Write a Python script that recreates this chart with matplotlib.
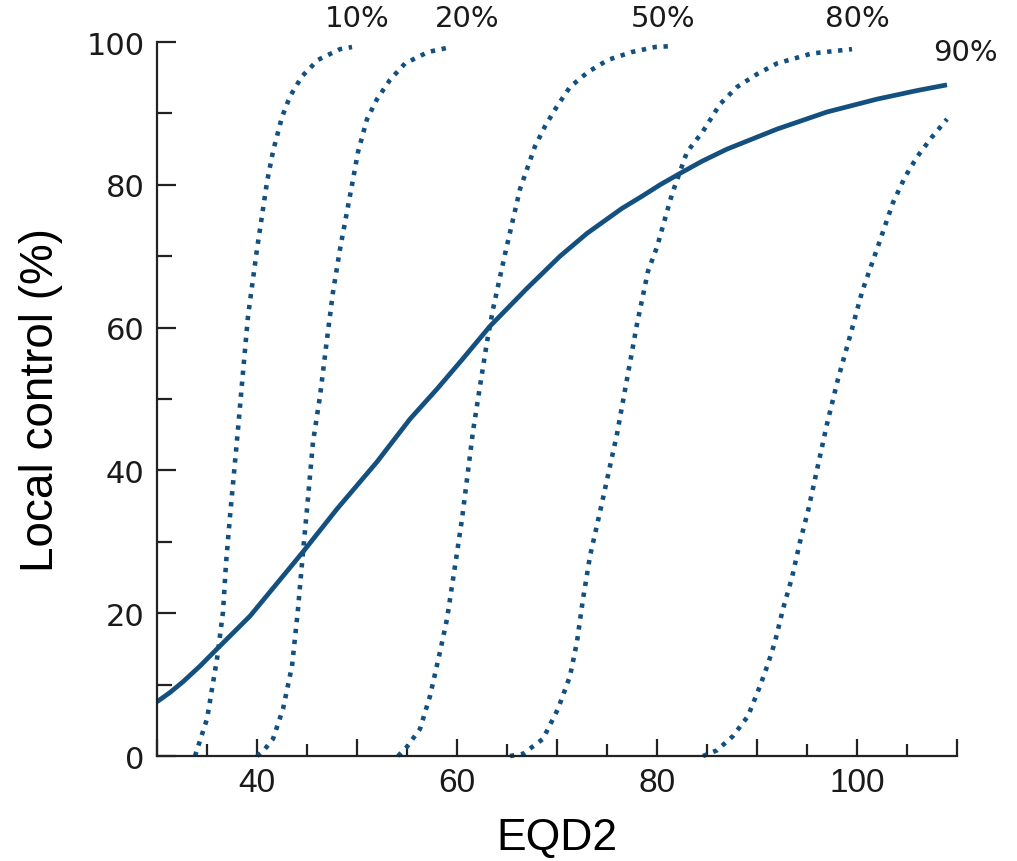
import matplotlib
matplotlib.use("Agg")
import matplotlib.pyplot as plt
from matplotlib.ticker import MultipleLocator, FuncFormatter

# Local control vs EQD2 (solid)
lc_x = [30, 31.3, 32.6, 34.3, 36, 39.3, 42.6, 44.6, 48, 52, 55.3, 58, 60.5, 63.3, 67, 70.3, 73, 76.5,
        78.5, 80.3, 82.3, 84.5, 87, 92, 97, 102, 106, 109]
lc_y = [7.6, 8.9, 10.4, 12.6, 15, 19.6, 25.2, 28.6, 34.6, 41.2, 47.2, 51.4, 55.5, 60.2, 65.5, 70, 73.2, 76.7,
        78.4, 80.0, 81.6, 83.3, 85, 87.8, 90.2, 92, 93.2, 94]

# Dotted curves for each percentile
p10_x = [33.8, 35, 36, 36.6, 36.9, 37.3, 38.1, 38.6, 39.1, 40, 41, 41.6, 42.5, 43.3, 44.5, 46.1, 48.3, 49.5]
p10_y = [0, 5.2, 13.6, 20.2, 27, 33.6, 45.8, 53.8, 61.6, 71, 80.4, 84.7, 89.5, 92.4, 95.2, 97.5, 99, 99.3]

p20_x = [40, 40.8, 41.6, 42.6, 43.5, 44.1, 44.6, 45, 45.6, 46.3, 47, 47.6, 48.3, 49.5, 50.1, 51,
         52, 53.3, 54.8, 57.1, 59.4]
p20_y = [0, 1, 2.4, 6.6, 12.6, 20.6, 28.6, 34.6, 44, 50.4, 58.4, 65, 71, 80, 84.6, 89.2,
         92, 94.7, 97, 98.6, 99.3]

p50_x = [54.1, 55, 56.3, 57.3, 58.3, 59, 59.8, 60.5, 61.6, 62.3, 63, 63.6, 64.8, 66.3, 67.8, 68.8,
         70, 71.3, 73.1, 75.1, 77.5, 79.8, 81.1]
p50_y = [0, 1.3, 3.8, 8.4, 14.6, 19.2, 26.6, 33.2, 45.5, 51.8, 58, 62.6, 70.3, 79.4, 85.4, 88.2,
         91, 93.7, 95.8, 97.5, 98.6, 99.3, 99.4]

p80_x = [65.3, 66.6, 68.6, 70.1, 71.3, 72, 72.6, 73.3, 74.3, 76, 77, 78, 79.1, 80, 81.5, 83,
         84.6, 86.3, 88, 90, 92, 95.5, 99.5]
p80_y = [0, 0.3, 2.4, 6.6, 11.2, 16, 22, 28, 34.2, 45.1, 52.8, 60.5, 67.9, 71.3, 78.7, 84.6,
         87.5, 91.3, 93.7, 95.5, 97, 98.4, 99]

p90_x = [84.6, 86, 87.6, 89.1, 90.3, 91.1, 91.8, 92.6, 93.5, 94.3, 95.1, 97, 98.1, 99.3, 100.5,
         102, 103.6, 104.8, 106, 107.5, 109]
p90_y = [0, 0.8, 2.8, 5.6, 9.8, 12.9, 16, 20.6, 25, 30, 34.3, 46.5, 52.8, 58.8, 65,
         71, 77.5, 81.1, 83.9, 86.7, 89.2]

labels = ["10%", "20%", "50%", "80%", "90%"]
label_x = [50, 61, 80.6, 100, 110.8]
label_y = [103.4, 103.4, 103.4, 103.4, 98.6]

blue = "#13507f"

fig = plt.figure(figsize=(10.17, 8.62), dpi=100)
ax = fig.add_axes([0.1544, 0.1218, 0.7866, 0.8283])

ax.plot(lc_x, lc_y, color=blue, lw=3.4, solid_capstyle="butt", solid_joinstyle="round", clip_on=False)
for xs, ys in [(p10_x, p10_y), (p20_x, p20_y), (p50_x, p50_y), (p80_x, p80_y), (p90_x, p90_y)]:
    ax.plot(xs, ys, color=blue, lw=3.3, linestyle=(0, (0.95, 1.45)),
            dash_capstyle="butt", clip_on=False)

for t, x, y in zip(labels, label_x, label_y):
    ax.text(x, y, t, ha="center", va="center", fontsize=21, color="#1a1a1a",
            family="DejaVu Sans", clip_on=False)

ax.set_xlim(30, 110)
ax.set_ylim(0, 100)

for s in ["top", "right"]:
    ax.spines[s].set_visible(False)
for s in ["left", "bottom"]:
    ax.spines[s].set_linewidth(1.6)
    ax.spines[s].set_color("#222222")

ax.xaxis.set_major_locator(MultipleLocator(10))
ax.xaxis.set_minor_locator(MultipleLocator(5))
ax.xaxis.set_major_formatter(FuncFormatter(lambda v, p: "%d" % v if v % 20 == 0 and 40 <= v <= 100 else ""))
ax.yaxis.set_major_locator(MultipleLocator(20))
ax.yaxis.set_minor_locator(MultipleLocator(10))

ax.tick_params(axis="x", which="major", direction="in", length=12, width=1.6, color="#222222", pad=8)
ax.tick_params(axis="x", which="minor", direction="in", length=8.5, width=1.6, color="#222222")
ax.tick_params(axis="y", which="major", direction="in", length=14, width=1.6, color="#222222", pad=9)
ax.tick_params(axis="y", which="minor", direction="in", length=10.5, width=1.6, color="#222222")

for lab in ax.get_xticklabels():
    lab.set_family("Liberation Sans")
    lab.set_fontsize(24)
    lab.set_color("#1a1a1a")
for lab in ax.get_yticklabels():
    lab.set_family("DejaVu Sans")
    lab.set_fontsize(22)
    lab.set_color("#1a1a1a")

ax.set_xlabel("EQD2", fontsize=32, family="Liberation Sans", color="black")
ax.set_ylabel("Local control (%)", fontsize=33, family="Liberation Sans", color="black")
ax.xaxis.set_label_coords(0.5, -0.086)
ax.yaxis.set_label_coords(-0.118, 0.5)

fig.savefig("out.png", dpi=100)
